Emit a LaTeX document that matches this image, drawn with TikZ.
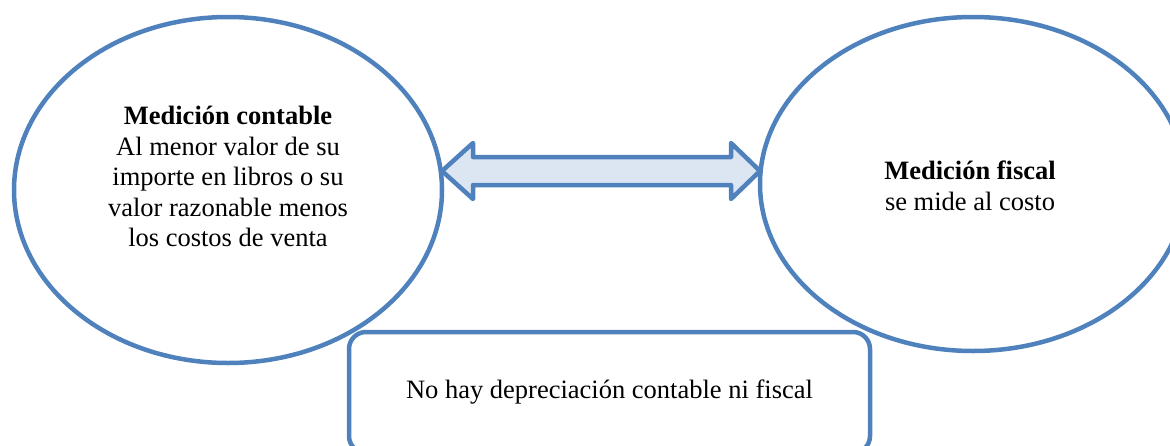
\documentclass[tikz,border=0pt]{standalone}
\usepackage{fontspec}
\setmainfont{Liberation Serif}
\usetikzlibrary{shapes.geometric,calc}
\definecolor{ob}{HTML}{4F81BD}
\definecolor{afill}{HTML}{DCE6F2}
\begin{document}
\begin{tikzpicture}[x=1pt,y=-1pt,
  oval/.style={ellipse,draw=ob,line width=4.5pt,inner sep=0pt},
  lbl/.style={align=center,inner sep=0pt,font=\fontsize{26.5}{30.5}\selectfont},
  box/.style={rectangle,rounded corners=17pt,draw=ob,fill=white,line width=4.5pt,inner sep=0pt,font=\fontsize{26.5}{30.5}\selectfont},
  arrowbody/.style={draw=ob,fill=afill,line width=4.5pt,line join=round}]
\useasboundingbox (0,0) rectangle (1170,445);
\clip (0,0) rectangle (1170,445);
% ellipses
\node[oval,minimum width=428pt,minimum height=346pt] (L) at (228,190) {};
\node[oval,minimum width=426pt,minimum height=334pt] (R) at (973,184) {};
\node[lbl] (Lt) at (228,176.5) {\textbf{Medición contable}\\Al menor valor de su\\importe en libros o su\\valor razonable menos\\los costos de venta};
\node[lbl] (Rt) at (970,186) {\textbf{Medición fiscal}\\se mide al costo};
% double arrow between the ellipses
\coordinate (aL) at (442,171);
\coordinate (aR) at (760,171);
\draw[arrowbody] (aL) -- ($(aL)+(31,-28)$) -- ($(aL)+(31,-14)$) -- ($(aR)+(-29,-14)$) -- ($(aR)+(-29,-28)$) -- (aR)
  -- ($(aR)+(-29,28)$) -- ($(aR)+(-29,14)$) -- ($(aL)+(31,14)$) -- ($(aL)+(31,28)$) -- cycle;
% bottom box
\node[box,minimum width=521pt,minimum height=121pt] (B) at (609.5,392.5) {No hay depreciación contable ni fiscal};
\end{tikzpicture}
\end{document}
